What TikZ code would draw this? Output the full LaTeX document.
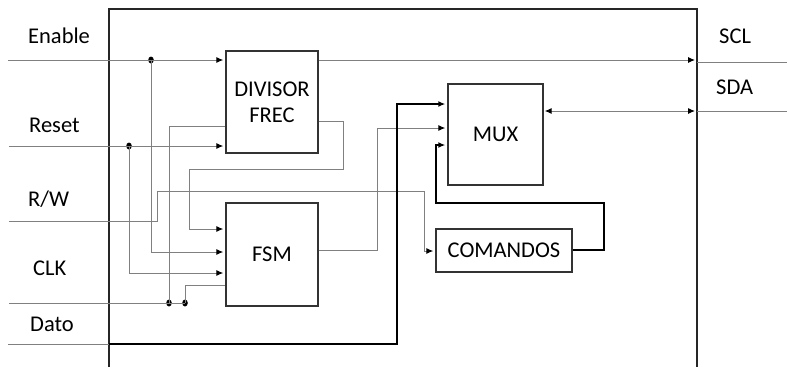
\documentclass[tikz,border=0pt]{standalone}
\usepackage{fontspec}
\setmainfont{Carlito}
\usetikzlibrary{arrows.meta,shapes.geometric}
\begin{document}
\begin{tikzpicture}[x=1pt,y=-1pt,
  blk/.style={draw=black!80,line width=1.4pt,inner sep=0pt,align=center,font=\fontsize{22.5}{26}\selectfont},
  lbl/.style={anchor=base west,inner sep=0pt,font=\fontsize{22.5}{26}\selectfont},
  wire/.style={draw=black!50,line width=1pt},
  bus/.style={draw=black,line width=2pt},
  arr/.style={-{Latex[length=7pt,width=6pt,color=black]},shorten >=2pt},
  dot/.style={ellipse,fill=black,inner sep=0pt,minimum width=5.5pt,minimum height=7pt}]
\useasboundingbox (0,0) rectangle (787,367);
% outer frame
\coordinate (fbl) at (109,367);
\coordinate (ftl) at (109,9);
\coordinate (ftr) at (697,9);
\coordinate (fbr) at (697,367);
\draw[black!85,line width=1.5pt] (fbl) -- (ftl) -- (ftr) -- (fbr);
% blocks
\node[blk,minimum width=92pt,minimum height=102pt] (div) at (272,102) {DIVISOR\\FREC};
\node[blk,minimum width=92pt,minimum height=103pt] (fsm) at (272,254.5) {FSM};
\node[blk,minimum width=95pt,minimum height=101pt] (mux) at (495.5,134.5) {MUX};
\node[blk,minimum width=136pt,minimum height=43pt] (com) at (504,250.5) {COMANDOS};
% labels
\node[lbl] (lEn) at (28,43) {Enable};
\node[lbl] (lRs) at (29,132) {Reset};
\node[lbl] (lRW) at (28,206) {R/W};
\node[lbl] (lCk) at (33,275) {CLK};
\node[lbl] (lDa) at (30,331) {Dato};
\node[lbl] (lSc) at (719,43) {SCL};
\node[lbl] (lSd) at (716,94) {SDA};
% input coordinates
\coordinate (enIn) at (8,60);
\coordinate (rsIn) at (9,146);
\coordinate (rwIn) at (9,221);
\coordinate (ckIn) at (9,303);
\coordinate (daIn) at (8,344);
\coordinate (sclOut) at (787,62);
\coordinate (sdaOut) at (787,111);
% dots
\node[dot] (enDot) at (151,60) {};
\node[dot] (rsDot) at (129,146) {};
\node[dot] (ckDot1) at (169,303) {};
\node[dot] (ckDot2) at (185,303) {};
% Enable
\draw[wire,arr] (enIn) -- (enIn -| div.west);
\draw[wire,arr] (enDot.center) |- (div.west |- 0,252);
% Reset
\draw[wire,arr] (rsIn) -- (rsIn -| div.west);
\draw[wire,arr] (rsDot.center) |- (div.west |- 0,273);
% Divisor output to FSM
\draw[wire,arr] (div.east |- 0,121) -- (343,121) -- (343,169) -- (189,169) -- (189,229) -- (fsm.west |- 0,229);
% CLK
\draw[wire] (ckIn) -- (ckDot2.center);
\draw[wire] (ckDot2.center) -- (185,285) -- (fsm.west |- 0,285);
\draw[wire] (ckDot1.center) -- (169,126) -- (div.west |- 0,126);
% R/W
\draw[wire,arr] (rwIn) -- (157,221) -- (157,191) -- (424,191) -- (424,251) -- (com.west |- 0,251);
% FSM to MUX
\draw[wire,arr] (fsm.east |- 0,250) -- (377,250) -- (377,128) -- (mux.west |- 0,128);
% Dato
\draw[wire] (daIn) -- (fbl |- daIn);
\draw[bus,arr] (fbl |- daIn) -- (397,344) -- (397,104) -- (mux.west |- 0,104);
% COMANDOS to MUX
\draw[bus,arr] (com.east |- 0,250) -- (604,250) -- (604,203) -- (436,203) -- (436,145) -- (mux.west |- 0,145);
% SCL
\draw[wire,arr] (div.east |- 0,60) -- (ftr |- 0,60);
\draw[wire] (ftr |- 0,62) -- (sclOut);
% SDA
\draw[wire,{Latex[length=7pt,width=6pt,color=black]}-{Latex[length=7pt,width=6pt,color=black]},shorten <=1pt,shorten >=2pt] (mux.east |- 0,111) -- (ftr |- 0,111);
\draw[wire] (ftr |- 0,111) -- (sdaOut);
\end{tikzpicture}
\end{document}
